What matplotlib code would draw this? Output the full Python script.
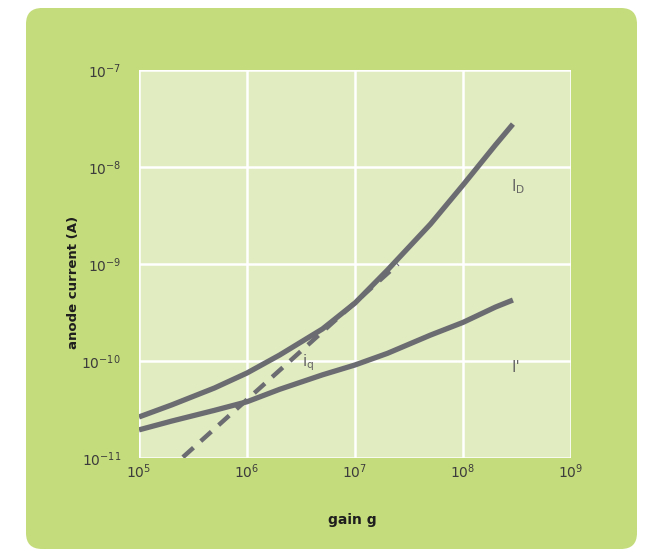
import matplotlib
matplotlib.use("Agg")
import matplotlib.pyplot as plt
from matplotlib.patches import FancyBboxPatch
from matplotlib.ticker import NullLocator

# gain values and the anode currents
gain = [1e5, 2e5, 5e5, 1e6, 2e6, 5e6, 1e7, 2e7, 5e7, 1e8, 2e8, 2.9e8]
i_dark = [2.65e-11, 3.52e-11, 5.27e-11, 7.52e-11, 1.15e-10, 2.14e-10,
          3.96e-10, 8.67e-10, 2.58e-9, 6.52e-9, 1.69e-8, 2.77e-8]
i_prime = [1.95e-11, 2.4e-11, 3.1e-11, 3.8e-11, 5.1e-11, 7.2e-11, 9.1e-11,
           1.2e-10, 1.85e-10, 2.5e-10, 3.6e-10, 4.25e-10]
# iq component (dashed)
gain_q = [2.55e5, 2.5e7]
i_q = [1.02e-11, 1.0e-9]

x_ticks = [1e5, 1e6, 1e7, 1e8, 1e9]
x_labels = ["$10^{5}$", "$10^{6}$", "$10^{7}$", "$10^{8}$", "$10^{9}$"]
y_ticks = [1e-11, 1e-10, 1e-9, 1e-8, 1e-7]
y_labels = ["$10^{-11}$", "$10^{-10}$", "$10^{-9}$", "$10^{-8}$", "$10^{-7}$"]

outer_green = "#c5dc7c"
inner_green = "#e1ecc0"
curve_col = "#6b6b72"
txt_col = "#3c3c3c"

fig = plt.figure(figsize=(6.49, 5.54), dpi=100)
fig.patch.set_facecolor("white")

# green rounded panel behind everything
panel = FancyBboxPatch((0.26, 0.05), 6.11, 5.41,
                       boxstyle="round,pad=0,rounding_size=0.16",
                       transform=fig.dpi_scale_trans,
                       facecolor=outer_green, edgecolor="none", zorder=-5)
fig.patches.append(panel)

ax = fig.add_axes([139 / 649, 1 - 458 / 554, 432 / 649, 388 / 554])
ax.set_zorder(2)
ax.set_facecolor(inner_green)
ax.set_xscale("log")
ax.set_yscale("log")
ax.set_xlim(1e5, 1e9)
ax.set_ylim(1e-11, 1e-7)
ax.xaxis.set_minor_locator(NullLocator())
ax.yaxis.set_minor_locator(NullLocator())
ax.set_xticks(x_ticks)
ax.set_xticklabels(x_labels)
ax.set_yticks(y_ticks)
ax.set_yticklabels(y_labels)
ax.tick_params(length=0, labelsize=10, colors=txt_col)
ax.tick_params(axis="x", pad=3)
ax.tick_params(axis="y", pad=13)
for s in ax.spines.values():
    s.set_visible(False)
ax.grid(True, color="white", lw=1.8)
ax.set_axisbelow(True)

ax.plot(gain_q, i_q, color=curve_col, lw=3.2, dashes=(3.2, 2.2),
        solid_capstyle="butt", zorder=2)
ax.plot(gain, i_dark, color=curve_col, lw=3.8, solid_capstyle="butt",
        solid_joinstyle="round", zorder=3)
ax.plot(gain, i_prime, color=curve_col, lw=3.8, solid_capstyle="butt",
        solid_joinstyle="round", zorder=3)

ax.text(2.8e8, 6.3e-9, r"$\mathregular{I_D}$", color="#666666", fontsize=11,
        ha="left", va="center")
ax.text(2.8e8, 8.6e-11, "I'", color="#666666", fontsize=11,
        ha="left", va="center")
ax.text(3.7e6, 9.6e-11, r"$\mathregular{i_q}$", color="#666666", fontsize=11,
        ha="center", va="center")

fig.text(73 / 649, 1 - 282 / 554, "anode current (A)", rotation=90,
         fontsize=9.5, fontweight="bold", color="#1e1e1e",
         ha="center", va="center")
fig.text(352 / 649, 1 - 520 / 554, "gain g", fontsize=10, fontweight="bold",
         color="#1e1e1e", ha="center", va="center")

fig.savefig("out.png", dpi=100, facecolor=fig.get_facecolor())
